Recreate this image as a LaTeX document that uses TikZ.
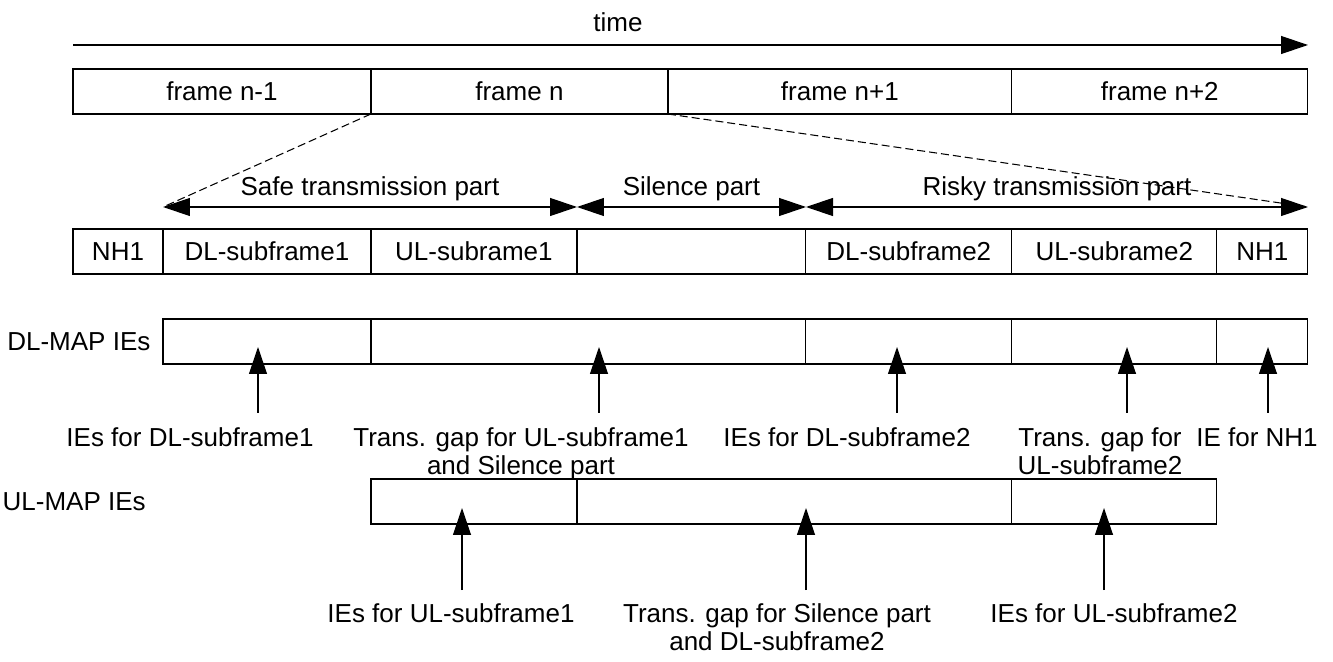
\documentclass[tikz,border=0pt]{standalone}
\usepackage{fontspec}
\setmainfont{Liberation Sans}
\usetikzlibrary{positioning,arrows.meta}

\begin{document}
\begin{tikzpicture}[x=0.02cm,y=-0.02cm,line width=0.7pt,
    font=\fontsize{14.8}{15.9}\selectfont,
    tip/.style={-{Triangle[length=0.54cm,width=0.36cm]}},
    both/.style={{Triangle[length=0.54cm,width=0.36cm]}-{Triangle[length=0.54cm,width=0.36cm]}},
    box/.style={draw, minimum height=0.9cm, outer sep=0pt, inner sep=0pt},
    gap/.style={dashed, dash pattern=on 0.16cm off 0.08cm, line width=0.6pt},
    note/.style={align=center, anchor=north, inner sep=0pt}]
\useasboundingbox (0,0) rectangle (1333,662);

% time axis
\node (time) at (618,22) {time};
\coordinate (t0) at (73,45);
\coordinate (t1) at (1308,45);
\draw[tip] (t0) -- (t1);

% frames
\node[box, minimum width=5.96cm, anchor=north west] (f1) at (73,69) {frame n-1};
\node[box, minimum width=5.94cm] (f2) [right=0pt of f1] {frame n};
\node[box, minimum width=6.88cm] (f3) [right=0pt of f2] {frame n+1};
\node[box, minimum width=5.92cm] (f4) [right=0pt of f3] {frame n+2};

% parts of frame n
\coordinate (s0) at (163,207);
\coordinate (s1) at (577,207);
\coordinate (s2) at (806,207);
\coordinate (s3) at (1308,207);
\draw[gap] (f2.south west) -- (s0);
\draw[gap] (f3.south west) -- (s3);
\draw[both] (s0) -- node[above] {Safe transmission part} (s1);
\draw[both] (s1) -- node[above] {Silence part} (s2);
\draw[both] (s2) -- node[above] {Risky transmission part} (s3);

% subframes
\node[box, minimum width=1.80cm, anchor=north west] (nh1) at (73,229) {NH1};
\node[box, minimum width=4.16cm] (dl1) [right=0pt of nh1] {DL-subframe1};
\node[box, minimum width=4.12cm] (ul1) [right=0pt of dl1] {UL-subrame1};
\node[box, minimum width=4.58cm] (sil) [right=0pt of ul1] {};
\node[box, minimum width=4.12cm] (dl2) [right=0pt of sil] {DL-subframe2};
\node[box, minimum width=4.10cm] (ul2) [right=0pt of dl2] {UL-subrame2};
\node[box, minimum width=1.82cm] (nh2) [right=0pt of ul2] {NH1};

% DL-MAP
\node[anchor=east, inner sep=0pt] (dlmap) at (151,342) {DL-MAP IEs};
\node[box, minimum width=4.16cm, anchor=north west] (m1) at (163,319) {};
\node[box, minimum width=8.70cm] (m2) [right=0pt of m1] {};
\node[box, minimum width=4.12cm] (m3) [right=0pt of m2] {};
\node[box, minimum width=4.10cm] (m4) [right=0pt of m3] {};
\node[box, minimum width=1.82cm] (m5) [right=0pt of m4] {};

\coordinate (d1) at (258,413);  \coordinate (d1t) at (258,347);
\coordinate (d2) at (599,413);  \coordinate (d2t) at (599,347);
\coordinate (d3) at (897,413);  \coordinate (d3t) at (897,347);
\coordinate (d4) at (1127,413); \coordinate (d4t) at (1127,347);
\coordinate (d5) at (1268,413); \coordinate (d5t) at (1268,347);
\draw[tip] (d1) -- (d1t);
\draw[tip] (d2) -- (d2t);
\draw[tip] (d3) -- (d3t);
\draw[tip] (d4) -- (d4t);
\draw[tip] (d5) -- (d5t);

\node[note] (n1) at (190,427) {IEs for DL-subframe1};
\node[note] (n2) at (521,427) {Trans. gap for UL-subframe1\\and Silence part};
\node[note] (n3) at (847,427) {IEs for DL-subframe2};
\node[note] (n4) at (1100,427) {Trans. gap for\\UL-subframe2};
\node[note] (n5) at (1257,427) {IE for NH1};

% UL-MAP
\node[anchor=west, inner sep=0pt] (ulmap) at (2,502) {UL-MAP IEs};
\node[box, minimum width=4.12cm, anchor=north west] (u1) at (371,479) {};
\node[box, minimum width=8.70cm] (u2) [right=0pt of u1] {};
\node[box, minimum width=4.10cm] (u3) [right=0pt of u2] {};

\coordinate (e1) at (462,590);  \coordinate (e1t) at (462,508);
\coordinate (e2) at (806,590);  \coordinate (e2t) at (806,508);
\coordinate (e3) at (1104,590); \coordinate (e3t) at (1104,508);
\draw[tip] (e1) -- (e1t);
\draw[tip] (e2) -- (e2t);
\draw[tip] (e3) -- (e3t);

\node[note] (k1) at (451,603) {IEs for UL-subframe1};
\node[note] (k2) at (777,603) {Trans. gap for Silence part\\and DL-subframe2};
\node[note] (k3) at (1114,603) {IEs for UL-subframe2};
\end{tikzpicture}
\end{document}
